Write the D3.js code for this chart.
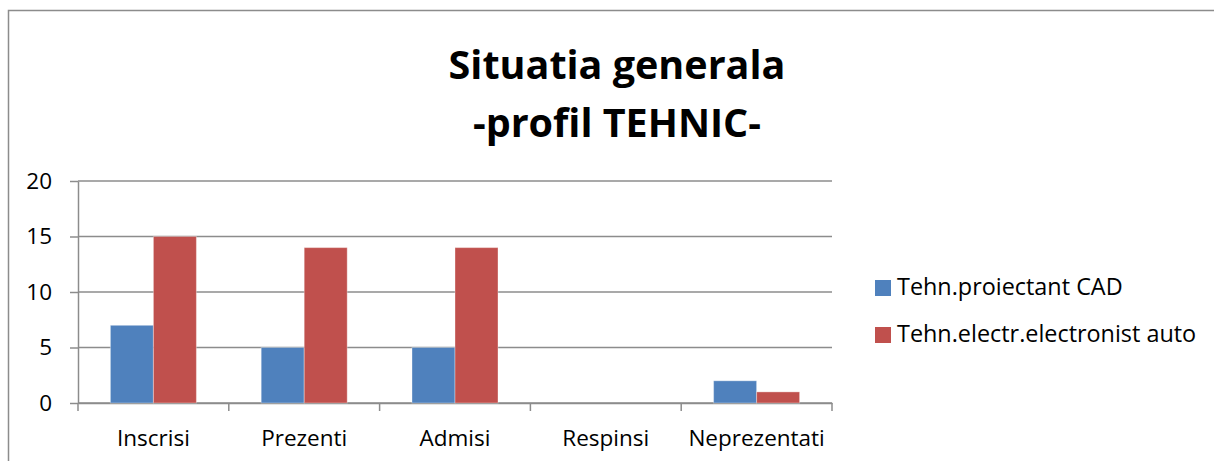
<!DOCTYPE html>
<html>
<head>
<meta charset="utf-8">
<script src="https://cdn.jsdelivr.net/npm/d3@7"></script>
<style>
  html, body { margin: 0; padding: 0; background: #fff; }
  svg { display: block; font-family: "Open Sans", "Noto Sans", sans-serif; }
</style>
</head>
<body>
<div id="chart"></div>
<script>
// date
const categorii = ["Inscrisi", "Prezenti", "Admisi", "Respinsi", "Neprezentati"];
const serii = ["Tehn.proiectant CAD", "Tehn.electr.electronist auto"];
const valoriCAD = [7, 5, 5, 0, 2];
const valoriAuto = [15, 14, 14, 0, 1];
const tickuriY = [0, 5, 10, 15, 20];
const titlu = ["Situatia generala", "-profil TEHNIC-"];

const W = 1214, H = 461;
const culori = d3.scaleOrdinal().domain(serii).range(["#4F81BD", "#C0504D"]);
const fontText = "22.5px";

const svg = d3.select("#chart").append("svg")
  .attr("width", W).attr("height", H);

// chenar exterior
svg.append("rect")
  .attr("x", 8.5).attr("y", 10.5)
  .attr("width", W + 20).attr("height", H + 20)
  .attr("fill", "none").attr("stroke", "#8c8c8c").attr("stroke-width", 1.5);

// titlu
svg.append("g").selectAll("text")
  .data(titlu)
  .join("text")
    .attr("x", 617)
    .attr("y", (d, i) => 79 + i * 58)
    .attr("text-anchor", "middle")
    .style("font-size", "39.5px")
    .style("font-weight", "bold")
    .attr("fill", "#000")
    .text(d => d);

const plot = { left: 78, right: 832, top: 181, bottom: 403 };

const x0 = d3.scaleBand()
  .domain(categorii)
  .range([plot.left, plot.right])
  .padding(0);

const gol = (x0.bandwidth() - 86) / 2;
const x1 = d3.scaleBand()
  .domain(serii)
  .range([gol, x0.bandwidth() - gol])
  .padding(0);

const y = d3.scaleLinear().domain([0, 20]).range([plot.bottom, plot.top]);

// grila orizontala
svg.append("g").selectAll("line")
  .data(tickuriY)
  .join("line")
    .attr("x1", plot.left).attr("x2", plot.right)
    .attr("y1", d => y(d)).attr("y2", d => y(d))
    .attr("stroke", "#8c8c8c").attr("stroke-width", 1.5);

// axa Y
const axaY = svg.append("g")
  .attr("transform", `translate(${plot.left},0)`)
  .call(d3.axisLeft(y).tickValues(tickuriY).tickSize(8).tickSizeOuter(0).tickPadding(18));
axaY.select(".domain").attr("stroke", "#8c8c8c").attr("stroke-width", 1.5);
axaY.selectAll(".tick line").attr("stroke", "#8c8c8c").attr("stroke-width", 1.5);
axaY.selectAll("text")
  .style("font-size", fontText)
  .style("font-family", "'Open Sans', sans-serif")
  .attr("fill", "#000");

// axa X
const axaX = svg.append("g")
  .attr("transform", `translate(0,${plot.bottom})`)
  .call(d3.axisBottom(x0).tickSize(0).tickPadding(27));
axaX.select(".domain").attr("stroke", "#8c8c8c").attr("stroke-width", 1.5);
axaX.selectAll("text")
  .style("font-size", fontText)
  .style("font-family", "'Open Sans', sans-serif")
  .attr("fill", "#000");

// marcaje intre categorii
const margini = categorii.map(c => x0(c)).concat([plot.right]);
svg.append("g").selectAll("line")
  .data(margini)
  .join("line")
    .attr("x1", d => d).attr("x2", d => d)
    .attr("y1", plot.bottom).attr("y2", plot.bottom + 8)
    .attr("stroke", "#8c8c8c").attr("stroke-width", 1.5);

// bare
const date = categorii.map((c, i) => ({
  cat: c,
  valori: [
    { serie: serii[0], v: valoriCAD[i] },
    { serie: serii[1], v: valoriAuto[i] }
  ]
}));

svg.append("g").selectAll("g")
  .data(date)
  .join("g")
    .attr("transform", d => `translate(${x0(d.cat)},0)`)
  .selectAll("rect")
  .data(d => d.valori.filter(e => e.v > 0))
  .join("rect")
    .attr("x", d => x1(d.serie))
    .attr("y", d => y(d.v))
    .attr("width", x1.bandwidth())
    .attr("height", d => y(0) - y(d.v))
    .attr("fill", d => culori(d.serie))
    .attr("stroke", "rgba(255,255,255,0.35)")
    .attr("stroke-width", 1);

// legenda
const leg = svg.append("g").selectAll("g")
  .data(serii)
  .join("g")
    .attr("transform", (d, i) => `translate(875,${280 + i * 47})`);
leg.append("rect")
  .attr("width", 16).attr("height", 16)
  .attr("fill", d => culori(d));
leg.append("text")
  .attr("x", 22).attr("y", 15)
  .style("font-size", "23.4px")
  .attr("fill", "#000")
  .text(d => d);
</script>
</body>
</html>
